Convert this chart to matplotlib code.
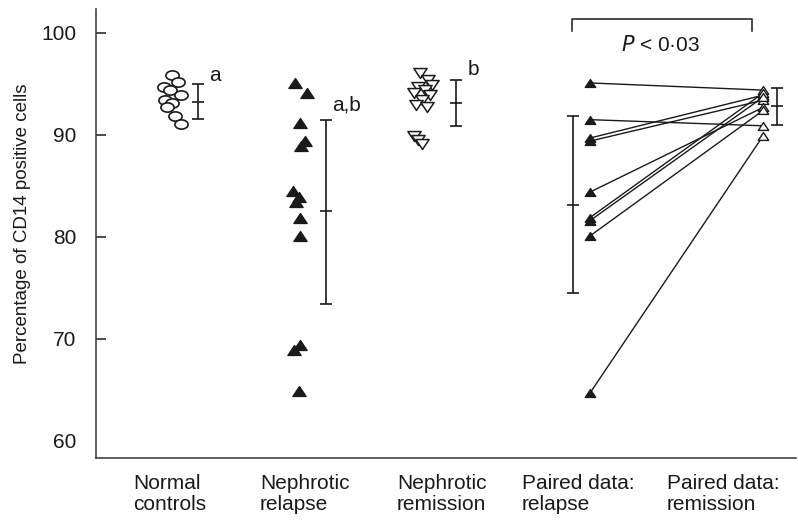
import numpy as np
import matplotlib
matplotlib.use("Agg")
import matplotlib.pyplot as plt
from matplotlib.path import Path
from matplotlib.transforms import Affine2D

# ---- data ----
normal = [95.9, 95.2, 94.7, 94.4, 93.9, 93.4, 93.1, 92.7, 91.9, 91.1]
relapse = [95.1, 94.1, 91.2, 89.4, 88.9, 84.5, 83.9, 83.4, 81.9, 80.1, 69.4, 68.9, 64.9]
remission = [96.1, 95.4, 94.9, 94.7, 94.4, 94.1, 93.9, 93.4, 92.9, 92.7, 89.9, 89.5, 89.1]
paired_relapse = [95.1, 91.5, 89.7, 89.4, 84.4, 81.9, 81.6, 80.1, 64.7]
paired_remission = [94.4, 90.9, 93.9, 93.4, 92.7, 94.1, 93.7, 92.4, 89.9]

# mean and error bar ends (as drawn)
summary = {
    "normal": (93.2, 91.6, 95.0),
    "relapse": (82.5, 73.4, 91.5),
    "remission": (93.1, 90.9, 95.4),
    "paired_relapse": (83.1, 74.5, 91.9),
    "paired_remission": (92.8, 91.0, 94.6),
}
cat_labels = ["Normal\ncontrols", "Nephrotic\nrelapse", "Nephrotic\nremission",
              "Paired data:\nrelapse", "Paired data:\nremission"]

# ---- layout (x in a pixel-like coordinate) ----
normal_x = [172, 178, 164, 170, 181, 165, 172, 167, 175, 181]
relapse_x = [295, 307, 300, 305, 301, 293, 299, 296, 300, 300, 300, 294, 299]
remission_x = [420, 428, 432, 418, 425, 414, 430, 422, 416, 427, 414, 418, 422]
pr_x, pm_x = 590, 763
err_x = {"normal": 198, "relapse": 326, "remission": 456,
         "paired_relapse": 573, "paired_remission": 777}
label_x = [133, 260, 397, 522, 667]

plt.rcParams['font.family'] = ['Liberation Sans', 'DejaVu Sans']
fig = plt.figure(figsize=(7.98, 5.2), dpi=100)
ax = fig.add_axes([96 / 798, 62 / 520, 700 / 798, 449 / 520])
ax.set_xlim(96, 796)
ax.set_ylim(58.33, 102.35)

ell = Path.unit_circle().transformed(Affine2D().scale(1.0, 0.7))
tri_up = Path([(-1, -0.75), (1, -0.75), (0, 0.75), (-1, -0.75)],
              [Path.MOVETO, Path.LINETO, Path.LINETO, Path.CLOSEPOLY])
tri_dn = tri_up.transformed(Affine2D().scale(1, -1))
k = "#1a1a1a"

ax.plot(normal_x, normal, linestyle="none", marker=ell, markersize=9.5,
        markerfacecolor="white", markeredgecolor=k, markeredgewidth=1.2)
ax.plot(relapse_x, relapse, linestyle="none", marker=tri_up, markersize=9.5,
        color=k)
ax.plot(remission_x, remission, linestyle="none", marker=tri_dn,
        markersize=9.5, markerfacecolor="white", markeredgecolor=k,
        markeredgewidth=1.1)

for a, b in zip(paired_relapse, paired_remission):
    ax.plot([pr_x, pm_x], [a, b], color=k, lw=1.0, zorder=1)
ax.plot([pr_x] * len(paired_relapse), paired_relapse, linestyle="none",
        marker=tri_up, markersize=7.5, color=k, zorder=3)
ax.plot([pm_x] * len(paired_remission), paired_remission, linestyle="none",
        marker=tri_up, markersize=7.5, markerfacecolor="white",
        markeredgecolor=k, markeredgewidth=1.0, zorder=3)

for key, (m, lo, hi) in summary.items():
    x = err_x[key]
    ax.errorbar([x], [m], yerr=[[m - lo], [hi - m]], fmt="none", ecolor=k,
                elinewidth=1.2, capsize=4.5, capthick=1.2)
    ax.plot([x], [m], marker="_", markersize=9, markeredgewidth=1.2, color=k)

# group letters
ax.text(209, 95.8, "a", fontsize=15, ha="left", va="center", color=k)
ax.text(332, 92.9, "a,b", fontsize=15, ha="left", va="center", color=k)
ax.text(468, 96.4, "b", fontsize=15, ha="left", va="center", color=k)

# significance bracket
ax.plot([572, 572, 752, 752], [100.2, 101.37, 101.37, 100.2], color=k,
        lw=1.1, clip_on=False)
ax.text(661, 98.8, r"$P$ < 0·03", fontsize=15, ha="center", va="center",
        color=k)

for lx, lab in zip(label_x, cat_labels):
    ax.text(lx, 56.76, lab, fontsize=15, ha="left", va="top",
            linespacing=1.1, color=k, clip_on=False)

ax.set_xticks([])
ax.set_yticks([60, 70, 80, 90, 100])
ax.tick_params(axis="y", direction="in", length=7.5, width=1.1,
               labelsize=15, pad=14, colors=k)
ax.yaxis.get_major_ticks()[0].tick1line.set_visible(False)
for s in ["top", "right"]:
    ax.spines[s].set_visible(False)
for s in ["left", "bottom"]:
    ax.spines[s].set_linewidth(1.2)
    ax.spines[s].set_color("#444444")
ax.set_ylabel("Percentage of CD14 positive cells", fontsize=13.5, color=k)
ax.yaxis.set_label_coords((31 - 96) / 700, (458 - 224) / 449)

fig.savefig("out.png", dpi=100)
